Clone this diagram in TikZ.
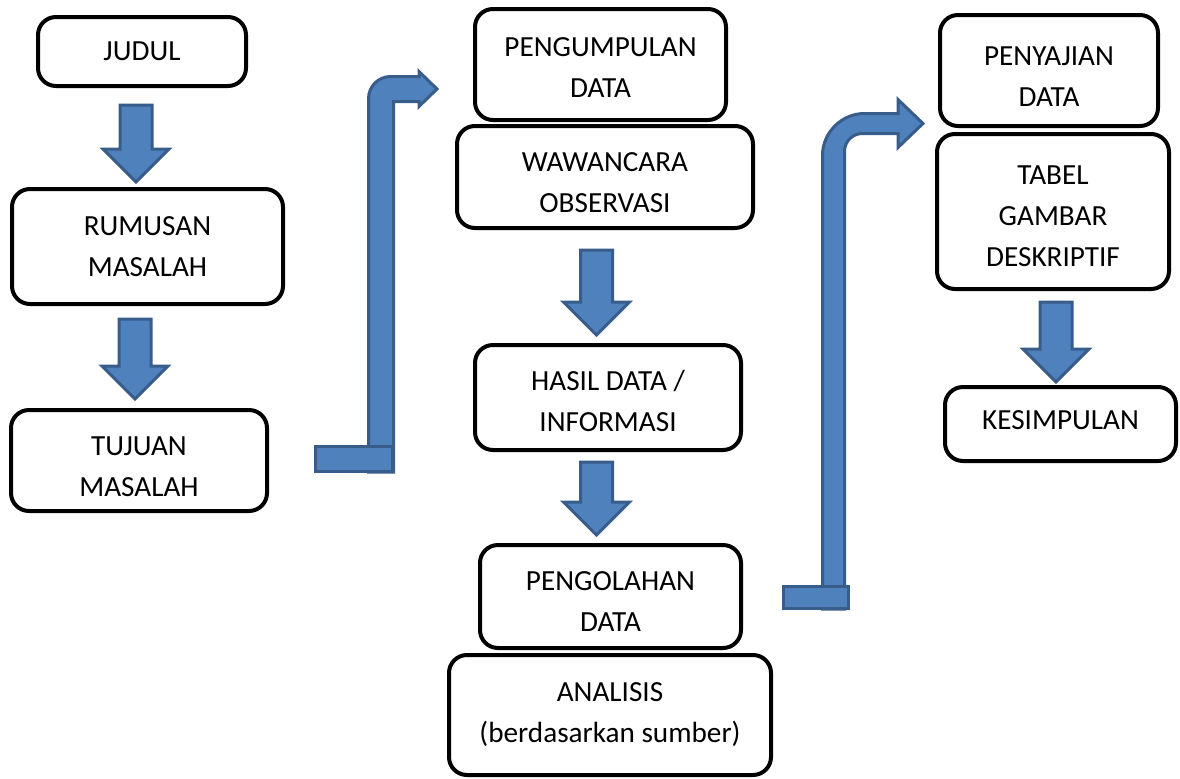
\documentclass[tikz,border=0pt]{standalone}
\usepackage{fontspec}
\setmainfont{Carlito}
\usepackage{tikz}
\usetikzlibrary{calc}
\definecolor{arrowfill}{HTML}{4F81BD}
\definecolor{arrowline}{HTML}{385D8A}
\tikzset{
  box/.style={draw=black, line width=2pt, rounded corners=9pt, fill=white, align=center, inner sep=0pt,
    font=\fontsize{14.6}{20.5}\selectfont},
  blockarrow/.style={fill=arrowfill, draw=arrowline, line width=1.5pt}
}
\newcommand{\blockdown}[2]{%
  \draw[blockarrow] #1 ++(-16,0) -- ++(32,0) -- ++(0,{#2-33}) -- ++(17,0) -- ++(-33,33) -- ++(-33,-33) -- ++(17,0) -- cycle;}

\begin{document}
\begin{tikzpicture}[x=0.5pt, y=-0.5pt]
\useasboundingbox (0,0) rectangle (1180,778);

\node[box, minimum width=104pt, minimum height=34.5pt] (judul) at (142,51.5) {JUDUL};
\node[box, minimum width=135.5pt, minimum height=57.5pt] (rumusan) at (147.5,246.5) {RUMUSAN\\MASALAH};
\node[box, text height=35.9pt, minimum width=128pt, minimum height=50.5pt] (tujuan) at (139,460.5) {TUJUAN\\MASALAH};

\node[box, text height=32.9pt, minimum width=125.5pt, minimum height=55.5pt] (pengumpulan) at (600.5,64.5) {PENGUMPULAN\\DATA};
\node[box, text height=35.4pt, minimum width=148pt, minimum height=51pt] (wawancara) at (605,177) {WAWANCARA\\OBSERVASI};
\node[box, text height=33.9pt, minimum width=133pt, minimum height=52.5pt] (hasil) at (608,397.5) {HASIL DATA /\\INFORMASI};
\node[box, text height=34.9pt, minimum width=130.5pt, minimum height=51.5pt] (pengolahan) at (610.5,596.5) {PENGOLAHAN\\DATA};
\node[box, minimum width=161pt, minimum height=60pt] (analisis) at (610,715) {ANALISIS\\(berdasarkan sumber)};

\node[box, text height=35.6pt, minimum width=109pt, minimum height=55.5pt] (penyajian) at (1049,70.5) {PENYAJIAN\\DATA};
\node[box, text height=54.6pt, minimum width=116pt, minimum height=77.5pt] (tabel) at (1053,211.5) {TABEL\\GAMBAR\\DESKRIPTIF};
\node[box, text depth=4pt, minimum width=115.5pt, minimum height=37pt] (kesimpulan) at (1060.5,424) {KESIMPULAN};

\blockdown{($(judul.south)+(-6,17)$)}{77}
\blockdown{($(rumusan.south)+(-12.5,13)$)}{80}
\blockdown{($(wawancara.south)+(-8.5,20)$)}{85}
\blockdown{($(hasil.south)+(-11.5,10)$)}{73}
\blockdown{($(tabel.south)+(3,11)$)}{80}

\draw[blockarrow] ($(tujuan.east)+(99.5,11.5)$) -- ++(0,-373.5) .. controls +(0,-12) and +(-12,0) .. ++(22,-22)
  -- ++(28.5,0) -- ++(0,-5) -- ++(18,17.5) -- ++(-18,17.5) -- ++(0,-5) -- ++(-25.5,0) -- ++(0,370.5) -- cycle;
\draw[blockarrow] ($(tujuan.east)+(46.5,-14)$) rectangle ++(77,25);

\draw[blockarrow] ($(pengolahan.east)+(79.5,12.5)$) -- ++(0,-453.5) .. controls +(0,-23) and +(-23,0) .. ++(42,-42)
  -- ++(33.5,0) -- ++(0,-14) -- ++(25,24) -- ++(-25,24) -- ++(0,-14) -- ++(-35.5,0)
  .. controls +(-10,0) and +(0,-10) .. ++(-18,18) -- ++(0,457.5) -- cycle;
\draw[blockarrow] ($(pengolahan.east)+(40.5,-10)$) rectangle ++(65,22);
\end{tikzpicture}
\end{document}
